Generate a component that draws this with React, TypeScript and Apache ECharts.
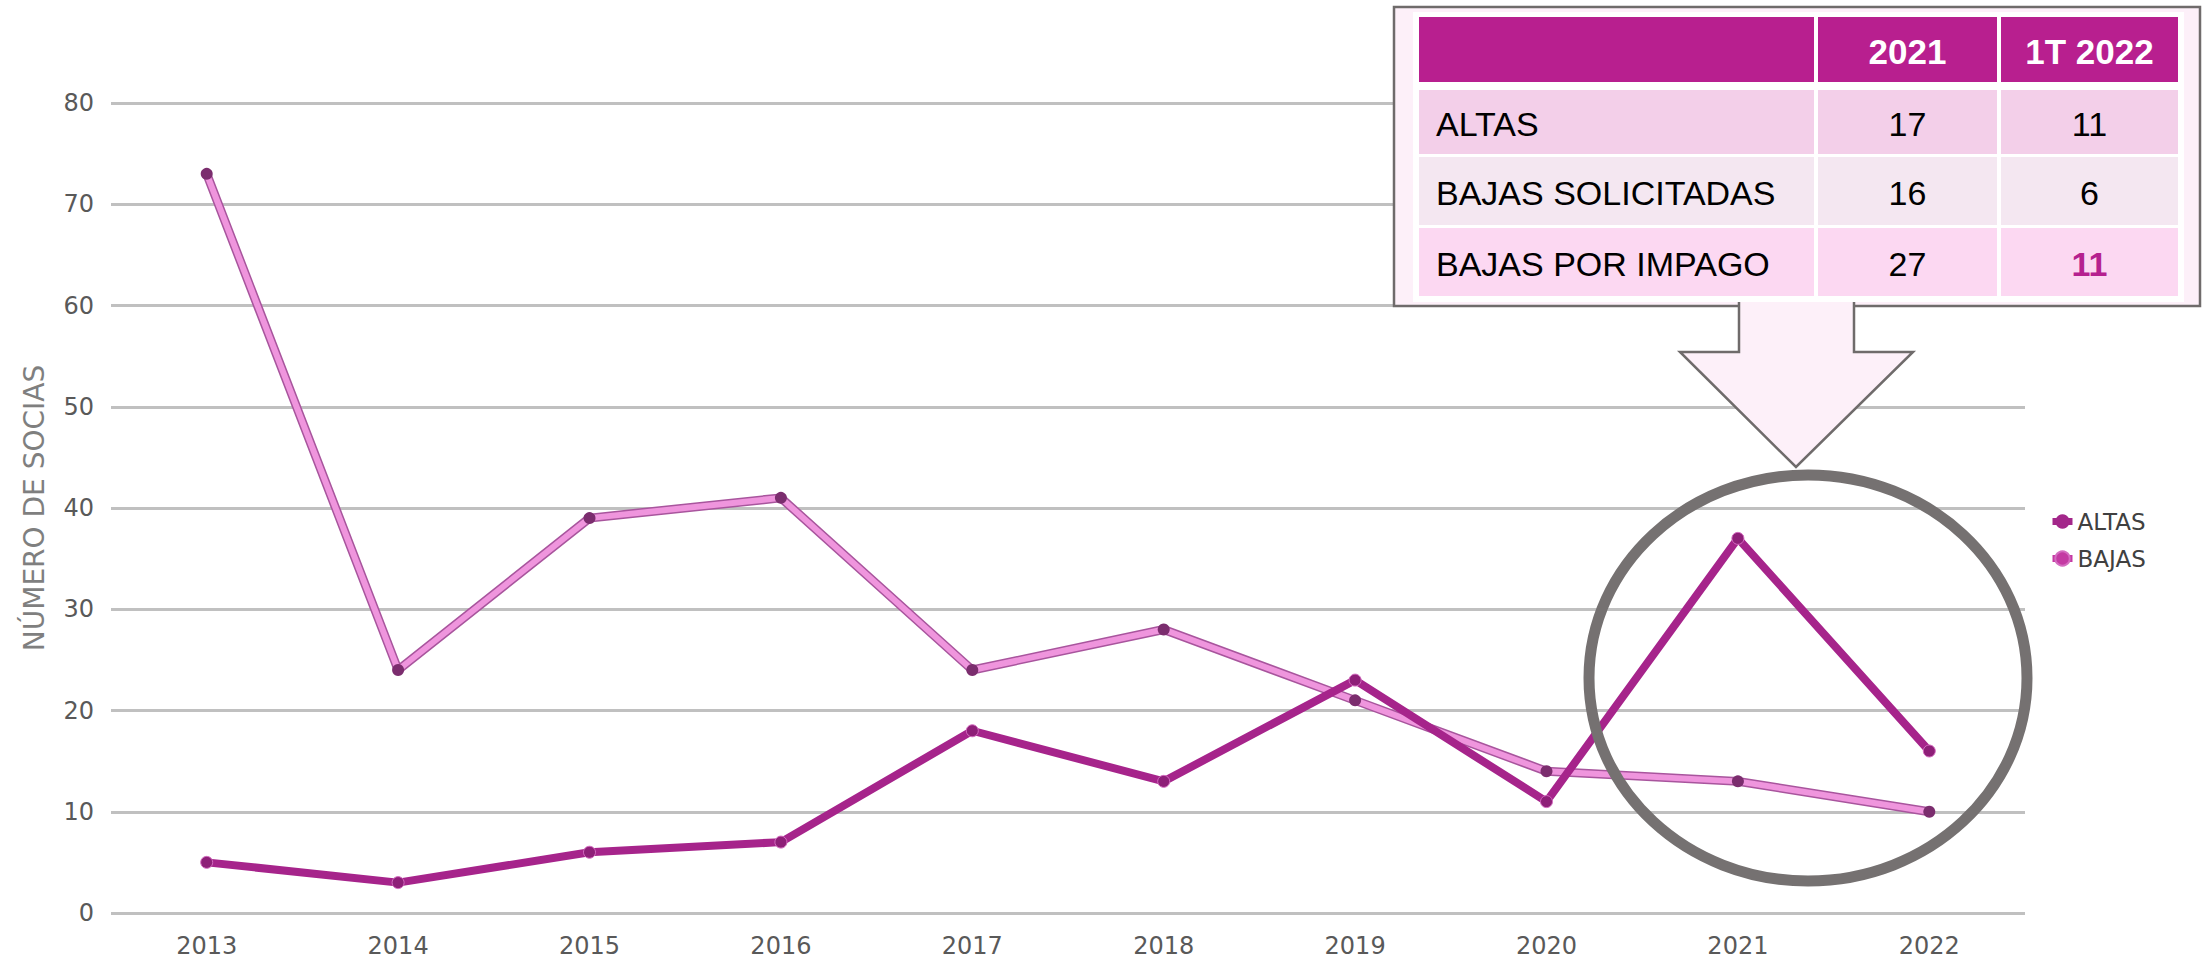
import React, { useEffect, useRef } from "react";
import * as echarts from "echarts";

const years = ["2013", "2014", "2015", "2016", "2017", "2018", "2019", "2020", "2021", "2022"];
const altas = [73, 24, 39, 41, 24, 28, 21, 14, 13, 10];
const bajas = [5, 3, 6, 7, 18, 13, 23, 11, 37, 16];
const yTicks = [0, 10, 20, 30, 40, 50, 60, 70, 80];

const tableHeader = ["", "2021", "1T 2022"];
const tableLabels = ["ALTAS", "BAJAS SOLICITADAS", "BAJAS POR IMPAGO"];
const table2021 = [17, 16, 27];
const table1T2022 = [11, 6, 11];

const AXIS_FONT = "'DejaVu Sans', sans-serif";
const TABLE_FONT = "'Liberation Sans', Arial, sans-serif";

function buildTable() {
  const els: any[] = [];
  els.push({
    type: "rect",
    shape: { x: 1394, y: 7, width: 806, height: 299 },
    style: { fill: "#fdf0f9", stroke: "#6f6b6b", lineWidth: 2.5 },
    z: 100,
  });
  const arrowPts = [
    [1739, 302],
    [1739, 352],
    [1680, 352],
    [1796, 467],
    [1913, 352],
    [1854, 352],
    [1854, 302],
  ];
  els.push({ type: "polygon", shape: { points: arrowPts }, style: { fill: "#fdf0f9" }, z: 101 });
  els.push({
    type: "polyline",
    shape: { points: arrowPts },
    style: { stroke: "#6f6b6b", lineWidth: 2.5, fill: null },
    z: 102,
  });
  els.push({
    type: "rect",
    shape: { x: 1413, y: 12, width: 771, height: 290 },
    style: { fill: "#ffffff" },
    z: 101,
  });
  const colX = [1419, 1818, 2001];
  const colW = [395, 179, 177];
  const headerY = 17, headerH = 65;
  const rowY = [90, 157, 228];
  const rowH = [64, 68, 68];
  const rowFill = ["#f3cfe9", "#f4e7f1", "#fcd8f2"];
  for (let c = 0; c < 3; c++) {
    els.push({
      type: "rect",
      shape: { x: colX[c], y: headerY, width: colW[c], height: headerH },
      style: { fill: "#b81f8f" },
      z: 102,
    });
    if (tableHeader[c]) {
      els.push({
        type: "text",
        x: colX[c] + colW[c] / 2,
        y: headerY + headerH / 2 + 2,
        style: {
          text: tableHeader[c],
          fill: "#ffffff",
          font: `bold 35px ${TABLE_FONT}`,
          align: "center",
          verticalAlign: "middle",
        },
        z: 103,
      });
    }
  }
  for (let r = 0; r < tableLabels.length; r++) {
    for (let c = 0; c < 3; c++) {
      els.push({
        type: "rect",
        shape: { x: colX[c], y: rowY[r], width: colW[c], height: rowH[r] },
        style: { fill: rowFill[r] },
        z: 102,
      });
    }
    const cy = rowY[r] + rowH[r] / 2 + 2;
    els.push({
      type: "text",
      x: 1436,
      y: cy,
      style: { text: tableLabels[r], fill: "#000000", font: `34px ${TABLE_FONT}`, align: "left", verticalAlign: "middle" },
      z: 103,
    });
    els.push({
      type: "text",
      x: colX[1] + colW[1] / 2,
      y: cy,
      style: { text: String(table2021[r]), fill: "#000000", font: `34px ${TABLE_FONT}`, align: "center", verticalAlign: "middle" },
      z: 103,
    });
    const highlight = r === tableLabels.length - 1;
    els.push({
      type: "text",
      x: colX[2] + colW[2] / 2,
      y: cy,
      style: {
        text: String(table1T2022[r]),
        fill: highlight ? "#b5208f" : "#000000",
        font: `${highlight ? "bold " : ""}34px ${TABLE_FONT}`,
        align: "center",
        verticalAlign: "middle",
      },
      z: 103,
    });
  }
  return els;
}

export default function App() {
  const ref = useRef<HTMLDivElement>(null);
  useEffect(() => {
    if (!ref.current) return;
    const chart = echarts.init(ref.current, null, { renderer: "svg" });
    chart.setOption({
      animation: false,
      backgroundColor: "#ffffff",
      grid: { left: 111, right: 178, top: 103, bottom: 51, containLabel: false },
      legend: {
        orient: "vertical",
        left: 2044,
        top: 505,
        itemWidth: 20,
        itemHeight: 18,
        itemGap: 14,
        textStyle: { color: "#404040", fontSize: 23, fontFamily: AXIS_FONT },
        data: [
          { name: "ALTAS", itemStyle: { color: "#a3278a" }, lineStyle: { color: "#a3278a", width: 7 } },
          { name: "BAJAS", itemStyle: { color: "#c43aa3" }, lineStyle: { color: "#c43aa3", width: 7 } },
        ],
      },
      xAxis: {
        type: "category",
        data: years,
        boundaryGap: true,
        axisLine: { show: false },
        axisTick: { show: false },
        axisLabel: { color: "#595959", fontSize: 24, fontFamily: AXIS_FONT, margin: 21 },
      },
      yAxis: {
        type: "value",
        min: yTicks[0],
        max: yTicks[yTicks.length - 1],
        interval: 10,
        name: "NÚMERO DE SOCIAS",
        nameLocation: "middle",
        nameRotate: 90,
        nameGap: 63,
        nameTextStyle: { color: "#7f7f7f", fontSize: 28, fontFamily: AXIS_FONT },
        axisLine: { show: false },
        axisTick: { show: false },
        axisLabel: { color: "#595959", fontSize: 24, fontFamily: AXIS_FONT, margin: 17 },
        splitLine: { lineStyle: { color: "#c0c0c0", width: 3 } },
      },
      series: [
        {
          name: "ALTAS_outline",
          type: "line",
          data: altas,
          symbol: "none",
          silent: true,
          lineStyle: { color: "#a8559d", width: 9 },
          z: 2,
        },
        {
          name: "ALTAS",
          type: "line",
          data: altas,
          symbol: "circle",
          symbolSize: 12,
          itemStyle: { color: "#7b2d6e" },
          lineStyle: { color: "#ef95dd", width: 6 },
          z: 3,
        },
        {
          name: "BAJAS",
          type: "line",
          data: bajas,
          symbol: "circle",
          symbolSize: 12,
          itemStyle: { color: "#8e1f78", borderColor: "#d46cc0", borderWidth: 1 },
          lineStyle: { color: "#a6248b", width: 8 },
          z: 4,
        },
      ],
      graphic: [
        {
          type: "ellipse",
          shape: { cx: 1808, cy: 678, rx: 219, ry: 203 },
          style: { fill: null, stroke: "#757171", lineWidth: 11 },
          z: 100,
        },
        ...buildTable(),
      ],
    });
    return () => chart.dispose();
  }, []);
  return <div ref={ref} style={{ width: 2203, height: 964, position: "absolute", left: 0, top: 0 }} />;
}
